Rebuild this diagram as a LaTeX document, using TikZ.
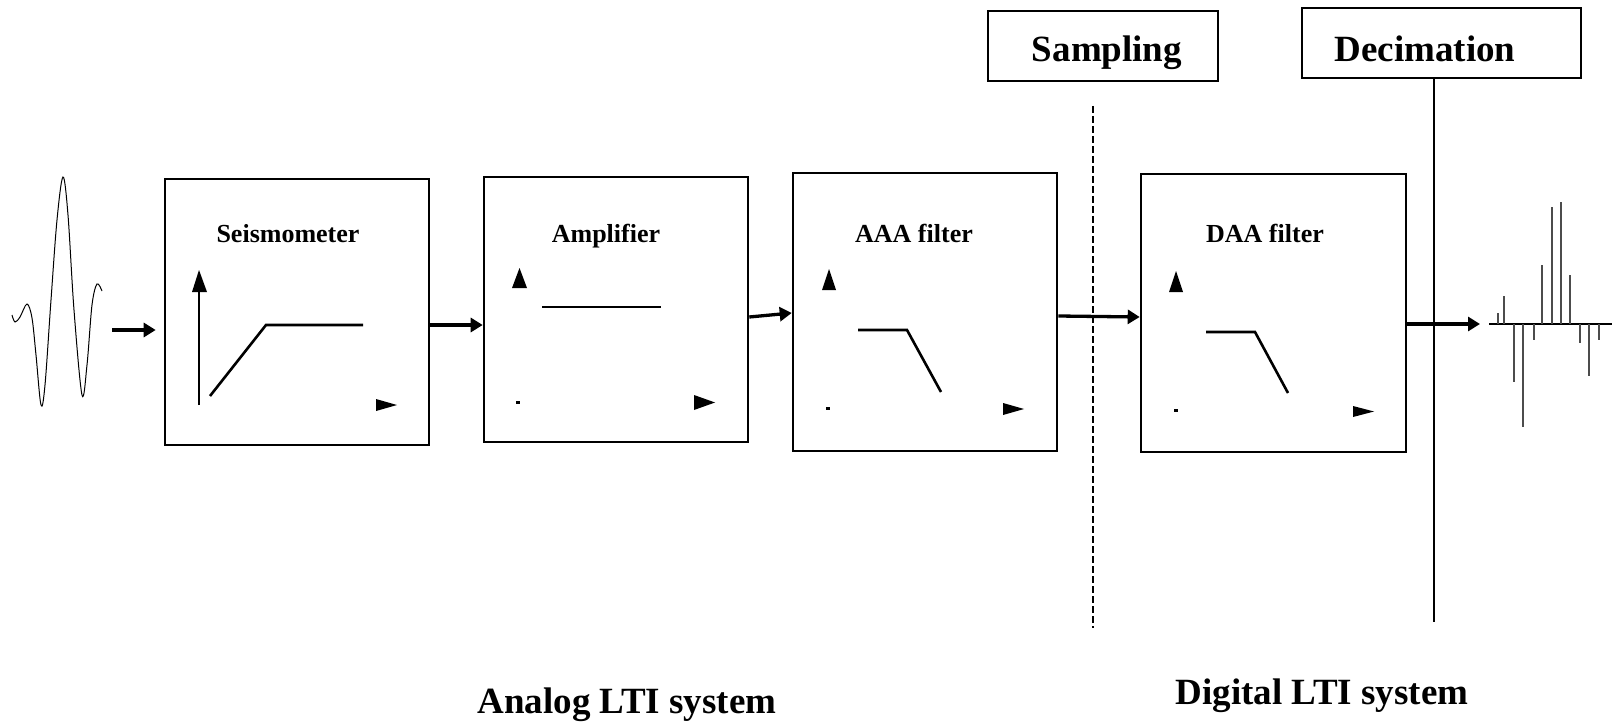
\documentclass[tikz,border=0pt]{standalone}
\usepackage{fontspec}
\setmainfont{Liberation Serif}
\usetikzlibrary{arrows.meta}
\tikzset{
  blk/.style={draw, line width=2.6pt, rectangle, inner sep=0pt},
  topbox/.style={draw, line width=2.6pt, rectangle, inner sep=0pt},
  boxlabel/.style={anchor=base, inner sep=0pt, font=\fontsize{26}{30}\selectfont\bfseries},
  biglabel/.style={anchor=base, inner sep=0pt, font=\fontsize{37}{42}\selectfont\bfseries},
  arr/.style={line width=3.3pt, -{Triangle[length=12pt,width=14pt]}},
  curve/.style={line width=2.6pt},
  tri/.style={fill=black},
  spike/.style={line width=1.6pt, black!70},
}
\begin{document}
\begin{tikzpicture}[x=1pt,y=-1pt]
\useasboundingbox (0,0) rectangle (1614,722);

% input waveform
\draw[line width=1pt] plot[smooth, tension=0.55] coordinates {
 (12,315) (15,322) (20,317) (27,304) (32,318) (36,355) (41,405) (45,385)
 (51,300) (57,220) (63,177) (68,215) (74,310) (82,395) (87,365) (92,305) (97,284) (102,291)};
\coordinate (wavein) at (112,330);

% processing boxes
\node[blk, minimum width=264pt, minimum height=266pt] (seis) at (297,312) {};
\node[blk, minimum width=264pt, minimum height=265pt] (amp) at (616,309.5) {};
\node[blk, minimum width=264pt, minimum height=278pt] (aaa) at (925,312) {};
\node[blk, minimum width=265pt, minimum height=278pt] (daa) at (1273.5,313) {};

\node[boxlabel] (seislbl) at (288,242) {Seismometer};
\node[boxlabel] (amplbl) at (606,242) {Amplifier};
\node[boxlabel] (aaalbl) at (914,242) {AAA filter};
\node[boxlabel] (daalbl) at (1265,242) {DAA filter};

% top boxes
\node[topbox, minimum width=230pt, minimum height=70pt] (samp) at (1103,46) {};
\node[topbox, minimum width=279pt, minimum height=70pt] (dec) at (1441.5,43) {};
\node[biglabel] (samplbl) at (1107,62) {Sampling};
\node[biglabel] (declbl) at (1425,62) {Decimation};

% bottom labels
\node[biglabel] (analog) at (627,713) {Analog LTI system};
\node[biglabel] (digital) at (1322,704) {Digital LTI system};

% seismometer response
\draw[line width=2.4pt] (199,405) -- (199,288);
\fill[tri] (199,270) -- (192,292) -- (207,292) -- cycle;
\draw[curve] (210,396) -- (266,325) -- (363,325);
\fill[tri] (376,399) -- (376,411) -- (397,405) -- cycle;

% amplifier response
\fill[tri] (519.5,268) -- (512,288) -- (527,288) -- cycle;
\draw[curve] (542,307) -- (661,307);
\fill[tri] (516,401) rectangle (520,403.5);
\fill[tri] (694,395) -- (694,410) -- (715,402.5) -- cycle;

% AAA filter response
\fill[tri] (829,269) -- (822,290) -- (836,290) -- cycle;
\draw[curve] (858,330) -- (907,330) -- (941,392);
\fill[tri] (826,407) rectangle (830,409.5);
\fill[tri] (1003,403) -- (1003,415) -- (1024,409) -- cycle;

% DAA filter response
\fill[tri] (1176,271) -- (1169,292) -- (1183,292) -- cycle;
\draw[curve] (1206,332) -- (1255,332) -- (1288,393);
\fill[tri] (1174,409) rectangle (1178,411.5);
\fill[tri] (1353,406) -- (1353,417) -- (1374,411.5) -- cycle;

% connectors
\draw[arr, shorten >=8pt] (wavein) -- (wavein -| seis.west);
\draw[arr] (seis.east |- 0,325) -- (amp.west |- 0,325);
\draw[arr] (amp.east |- 0,317) -- (aaa.west |- 0,313);
\draw[arr] (aaa.east |- 0,316) -- (daa.west |- 0,317);
\coordinate (outtip) at (1480,324);
\draw[arr] (daa.east |- outtip) -- (outtip);

% sampling boundary (dashed)
\coordinate (samptop) at (1093,106);
\coordinate (sampbot) at (1093,628);
\draw[line width=1.8pt, dash pattern=on 7pt off 3pt] (samptop) -- (sampbot);

% decimation boundary
\coordinate (decend) at (1434,622);
\draw[line width=2.2pt] (decend |- dec.south) -- (decend);

% output discrete signal
\draw[line width=1.6pt] (1489,324) -- (1612,324);
\foreach \x/\y in {1498/313,1504/296,1514/382,1523/427,1534/340,1542/265,1552/207,1561/202,1570/275,1580/343,1589/376,1599/340}
  \draw[spike] (\x,324) -- (\x,\y);
\end{tikzpicture}
\end{document}
